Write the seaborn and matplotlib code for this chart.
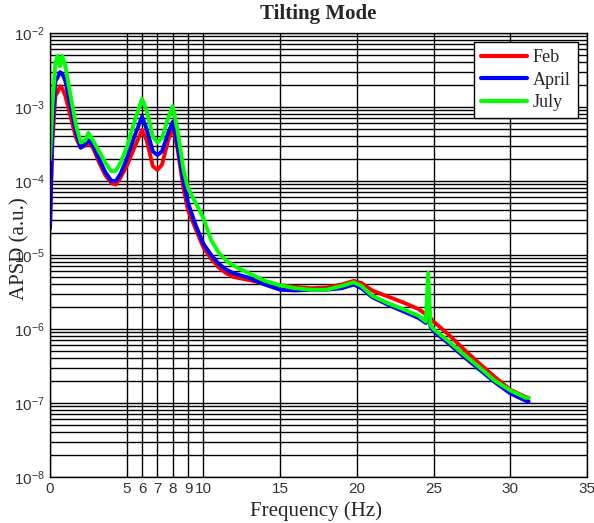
import numpy as np
import pandas as pd
import seaborn as sns
import matplotlib
matplotlib.use('Agg')
import matplotlib.pyplot as plt
from matplotlib.ticker import LogLocator, FixedLocator

freq = [0.0, 0.15, 0.35, 0.5, 0.65, 0.8, 1.0, 1.3, 1.7, 2.0, 2.3, 2.5, 2.8, 3.2, 3.6,
        4.0, 4.3, 4.6, 5.0, 5.5, 6.0, 6.3, 6.7, 7.0, 7.3, 7.7, 8.0, 8.3, 8.7, 9.0,
        9.5, 10.0, 10.5, 11.0, 11.5, 12.0, 13.0, 14.0, 15.0, 16.0, 17.0, 18.0, 19.0,
        19.8, 20.3, 21.0, 22.0, 23.0, 24.0, 24.5, 24.65, 24.8, 25.0, 26.0, 27.0,
        28.0, 29.0, 30.0, 31.0, 31.2]

# log10 of APSD for each month
feb_log = [-4.64, -3.5, -2.85, -2.8, -2.72, -2.75, -2.85, -3.1, -3.42, -3.55, -3.52, -3.48,
           -3.55, -3.75, -3.92, -4.03, -4.05, -3.95, -3.8, -3.55, -3.31, -3.45, -3.8, -3.85,
           -3.78, -3.45, -3.28, -3.55, -4.1, -4.4, -4.65, -4.9, -5.05, -5.17, -5.25, -5.3,
           -5.34, -5.39, -5.41, -5.43, -5.45, -5.44, -5.4, -5.35, -5.38, -5.48, -5.56, -5.64,
           -5.73, -5.8, -5.82, -5.85, -5.9, -6.08, -6.28, -6.47, -6.65, -6.82, -6.92, -6.93]
april_log = [-4.64, -3.3, -2.65, -2.6, -2.53, -2.55, -2.65, -2.95, -3.35, -3.55, -3.5, -3.45,
             -3.52, -3.7, -3.88, -4.0, -4.0, -3.9, -3.7, -3.4, -3.13, -3.3, -3.6, -3.65,
             -3.6, -3.35, -3.2, -3.5, -4.0, -4.3, -4.6, -4.85, -5.0, -5.12, -5.2, -5.25,
             -5.31, -5.4, -5.47, -5.48, -5.47, -5.47, -5.45, -5.4, -5.45, -5.57, -5.67, -5.76,
             -5.85, -5.92, -5.6, -5.97, -6.03, -6.2, -6.38, -6.55, -6.72, -6.87, -6.97, -6.98]
july_log = [-3.72, -3.0, -2.4, -2.31, -2.45, -2.31, -2.45, -2.8, -3.25, -3.48, -3.45, -3.35,
            -3.45, -3.6, -3.75, -3.87, -3.86, -3.75, -3.55, -3.2, -2.89, -3.05, -3.4, -3.48,
            -3.42, -3.15, -2.99, -3.3, -3.85, -4.1, -4.3, -4.5, -4.8, -4.97, -5.08, -5.15,
            -5.25, -5.35, -5.41, -5.45, -5.47, -5.47, -5.42, -5.37, -5.42, -5.55, -5.65, -5.73,
            -5.82, -5.9, -5.24, -5.95, -6.0, -6.17, -6.35, -6.52, -6.7, -6.83, -6.93, -6.93]

months = ['Feb', 'April', 'July']
colors = ['#ff0000', '#0000ff', '#00ff00']
xticks = [0, 5, 6, 7, 8, 9, 10, 15, 20, 25, 30, 35]

rows = []
for m, vals in zip(months, [feb_log, april_log, july_log]):
    for f, v in zip(freq, vals):
        rows.append({'freq': f, 'apsd': 10 ** v, 'month': m})
df = pd.DataFrame(rows)

sns.set_style('white')
plt.rcParams['font.family'] = ['Liberation Serif', 'DejaVu Serif']
plt.rcParams['mathtext.fontset'] = 'custom'
plt.rcParams['mathtext.rm'] = 'Liberation Sans'

fig = plt.figure(figsize=(5.94, 5.23), dpi=100)
ax = fig.add_axes([0.0842, 0.088, 0.904, 0.849])

sns.lineplot(data=df, x='freq', y='apsd', hue='month', hue_order=months,
             palette=colors, linewidth=2.8, ax=ax, sort=False, estimator=None)

ax.set_yscale('log')
ax.set_ylim(1e-8, 1e-2)
ax.set_xlim(0, 35)
ax.xaxis.set_major_locator(FixedLocator(xticks))
ax.yaxis.set_major_locator(LogLocator(base=10, numticks=10))
ax.yaxis.set_minor_locator(LogLocator(base=10, subs=np.arange(2, 10), numticks=100))

ax.grid(True, which='major', color='black', linewidth=1.0)
ax.grid(True, which='minor', axis='y', color='black', linewidth=1.0)
ax.set_axisbelow(True)

for s in ax.spines.values():
    s.set_color('black')
    s.set_linewidth(1.0)

ax.tick_params(axis='both', which='both', direction='in', length=3, color='black')
for lab in ax.get_xticklabels() + ax.get_yticklabels():
    lab.set_fontfamily('Liberation Sans')
    lab.set_fontsize(11)
    lab.set_color('#333333')

ax.set_xlabel('Frequency (Hz)', fontsize=15)
ax.xaxis.set_label_coords(0.496, -0.077)
ax.xaxis.label.set_va('center')
ax.set_ylabel('APSD (a.u.)', fontsize=15)
ax.yaxis.set_label_coords(-0.056, 0.514)
ax.yaxis.label.set_va('center')
fig.text(0.535, 1 - 14 / 523, 'Tilting Mode', fontsize=15, fontweight='bold',
         ha='center', va='center')

leg = ax.legend(loc='upper right', fontsize=13, frameon=True, fancybox=False,
                edgecolor='black', framealpha=1, borderaxespad=0.5, handlelength=2.55,
                handletextpad=0.3, labelspacing=0.3, borderpad=0.4)
leg.get_frame().set_linewidth(1.0)
for line in leg.get_lines():
    line.set_linewidth(3)

fig.savefig('out.png', dpi=100)
